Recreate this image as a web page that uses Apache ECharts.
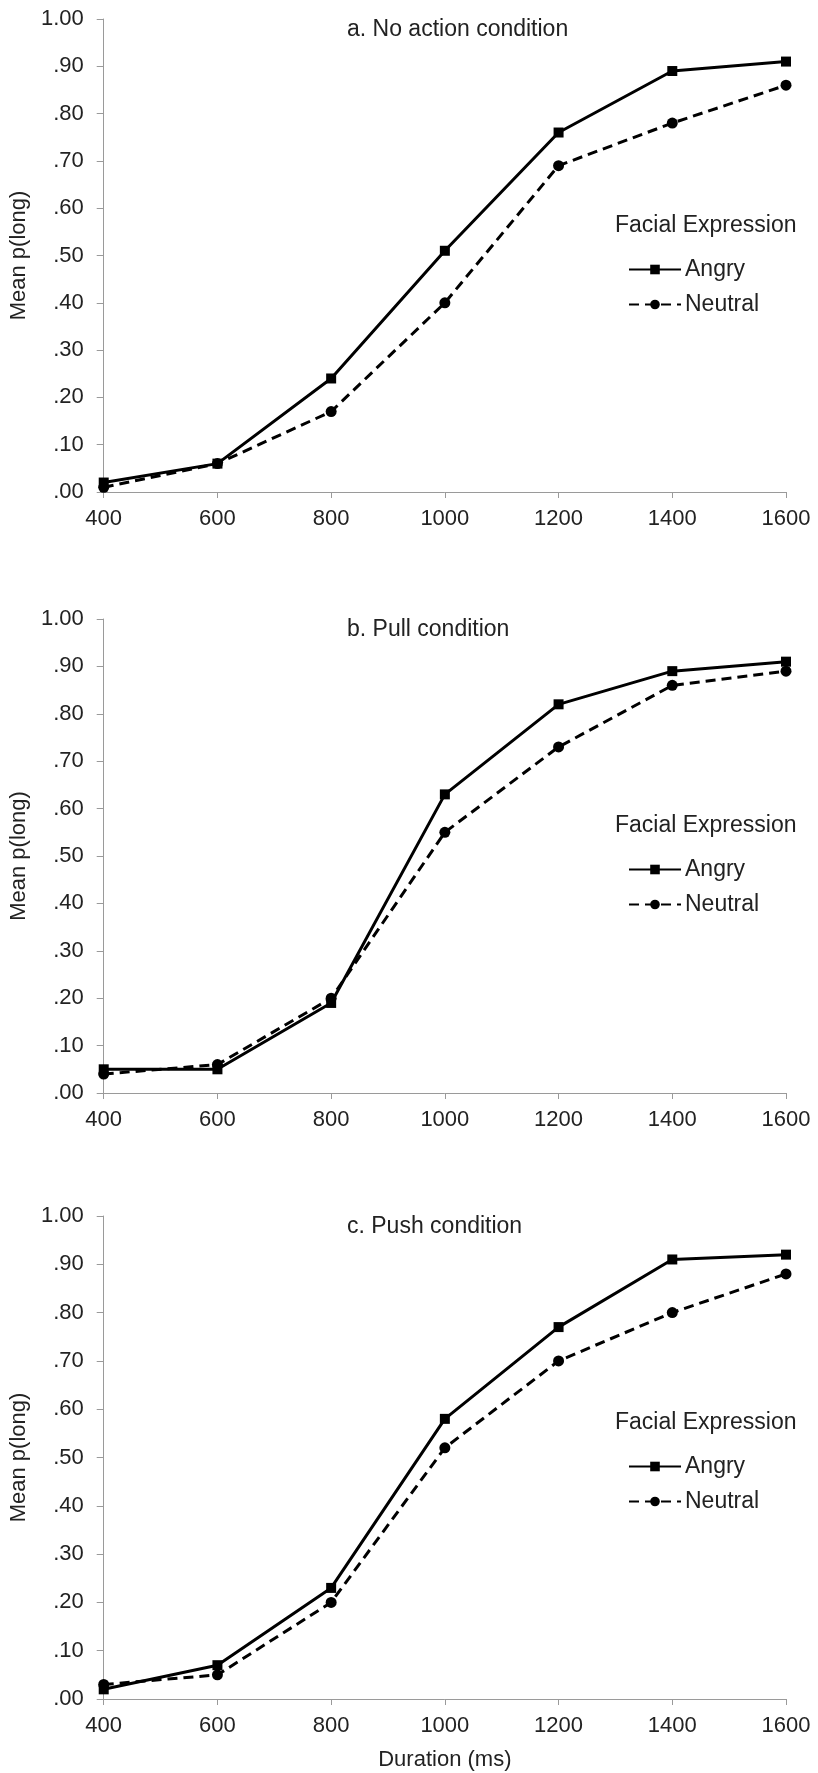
<!DOCTYPE html>
<html>
<head>
<meta charset="utf-8">
<script src="https://cdn.jsdelivr.net/npm/echarts@6/dist/echarts.min.js"></script>
<style>
html,body{margin:0;padding:0;background:#fff;}
#chart{width:818px;height:1773px;}
</style>
</head>
<body>
<div id="chart"></div>
<script>
// ---- data ----
const durations = [400, 600, 800, 1000, 1200, 1400, 1600];
const panelTitles = ['a. No action condition', 'b. Pull condition', 'c. Push condition'];
const seriesNames = ['Angry', 'Neutral'];
const angryNoAction = [0.02, 0.06, 0.24, 0.51, 0.76, 0.89, 0.91];
const neutralNoAction = [0.01, 0.06, 0.17, 0.40, 0.69, 0.78, 0.86];
const angryPull = [0.05, 0.05, 0.19, 0.63, 0.82, 0.89, 0.91];
const neutralPull = [0.04, 0.06, 0.20, 0.55, 0.73, 0.86, 0.89];
const angryPush = [0.02, 0.07, 0.23, 0.58, 0.77, 0.91, 0.92];
const neutralPush = [0.03, 0.05, 0.20, 0.52, 0.70, 0.80, 0.88];
const yTickLabels = ['.00', '.10', '.20', '.30', '.40', '.50', '.60', '.70', '.80', '.90', '1.00'];
const xTickLabels = ['400', '600', '800', '1000', '1200', '1400', '1600'];
const yAxisTitle = 'Mean p(long)';
const xAxisTitle = 'Duration (ms)';
const legendTitle = 'Facial Expression';

// ---- layout ----
const FONT = '"Liberation Sans", Arial, sans-serif';
const TXT = '#222';
const AX = '#9a9a9a';
const panels = [
  {top: 19, height: 473, angry: angryNoAction, neutral: neutralNoAction},
  {top: 619, height: 474, angry: angryPull, neutral: neutralPull},
  {top: 1216, height: 483, angry: angryPush, neutral: neutralPush}
];

const grids = [], xAxes = [], yAxes = [], series = [], legends = [], graphics = [];
panels.forEach((p, i) => {
  grids.push({left: 96, right: 32, top: p.top, height: p.height, containLabel: false});
  xAxes.push({
    type: 'value', gridIndex: i, min: 400, max: 1600, interval: 200,
    name: i === 2 ? xAxisTitle : '', nameLocation: 'middle', nameGap: 50,
    nameTextStyle: {fontFamily: FONT, fontSize: 22, color: TXT},
    axisLine: {show: true, onZero: false, lineStyle: {color: AX, width: 1}},
    axisTick: {show: true, length: 6, lineStyle: {color: AX}},
    splitLine: {show: false},
    axisLabel: {fontFamily: FONT, fontSize: 22, color: TXT, margin: 16,
      formatter: v => { const k = durations.indexOf(v); return k >= 0 ? xTickLabels[k] : ''; }}
  });
  yAxes.push({
    type: 'value', gridIndex: i, min: 0, max: 1, interval: 0.1,
    name: yAxisTitle, nameLocation: 'middle', nameGap: 52, nameRotate: 90,
    nameTextStyle: {fontFamily: FONT, fontSize: 22, color: TXT},
    axisLine: {show: true, lineStyle: {color: AX, width: 1}},
    axisTick: {show: true, length: 7, lineStyle: {color: AX}},
    splitLine: {show: false},
    axisLabel: {fontFamily: FONT, fontSize: 22, color: TXT, margin: 20,
      formatter: v => yTickLabels[Math.round(v * 10)]}
  });
  series.push({
    name: seriesNames[0], type: 'line', xAxisIndex: i, yAxisIndex: i,
    data: durations.map((d, k) => [d, p.angry[k]]),
    symbol: 'rect', symbolSize: 10, z: 3,
    lineStyle: {color: '#000', width: 3, type: 'solid'},
    itemStyle: {color: '#000'}
  });
  series.push({
    name: seriesNames[1], type: 'line', xAxisIndex: i, yAxisIndex: i,
    data: durations.map((d, k) => [d, p.neutral[k]]),
    symbol: 'circle', symbolSize: 11, z: 2,
    lineStyle: {color: '#000', width: 3, type: [10, 6]},
    itemStyle: {color: '#000'}
  });
  legends.push({
    data: seriesNames, orient: 'vertical', left: 623, top: p.top + 234,
    itemWidth: 52, itemHeight: 12, itemGap: 12, selectedMode: false,
    textStyle: {fontFamily: FONT, fontSize: 23, color: TXT, padding: [0, 0, 0, -1]}
  });
  graphics.push({type: 'text', x: 347, y: p.top + 11,
    style: {text: panelTitles[i], font: '23px ' + FONT, fill: TXT, textAlign: 'left', textVerticalAlign: 'middle'}});
  graphics.push({type: 'text', x: 615, y: p.top + 207,
    style: {text: legendTitle, font: '23px ' + FONT, fill: TXT, textAlign: 'left', textVerticalAlign: 'middle'}});
});

const chart = echarts.init(document.getElementById('chart'), null, {renderer: 'canvas'});
chart.setOption({
  animation: false,
  backgroundColor: '#fff',
  grid: grids, xAxis: xAxes, yAxis: yAxes, series: series,
  legend: legends, graphic: graphics
});
</script>
</body>
</html>
